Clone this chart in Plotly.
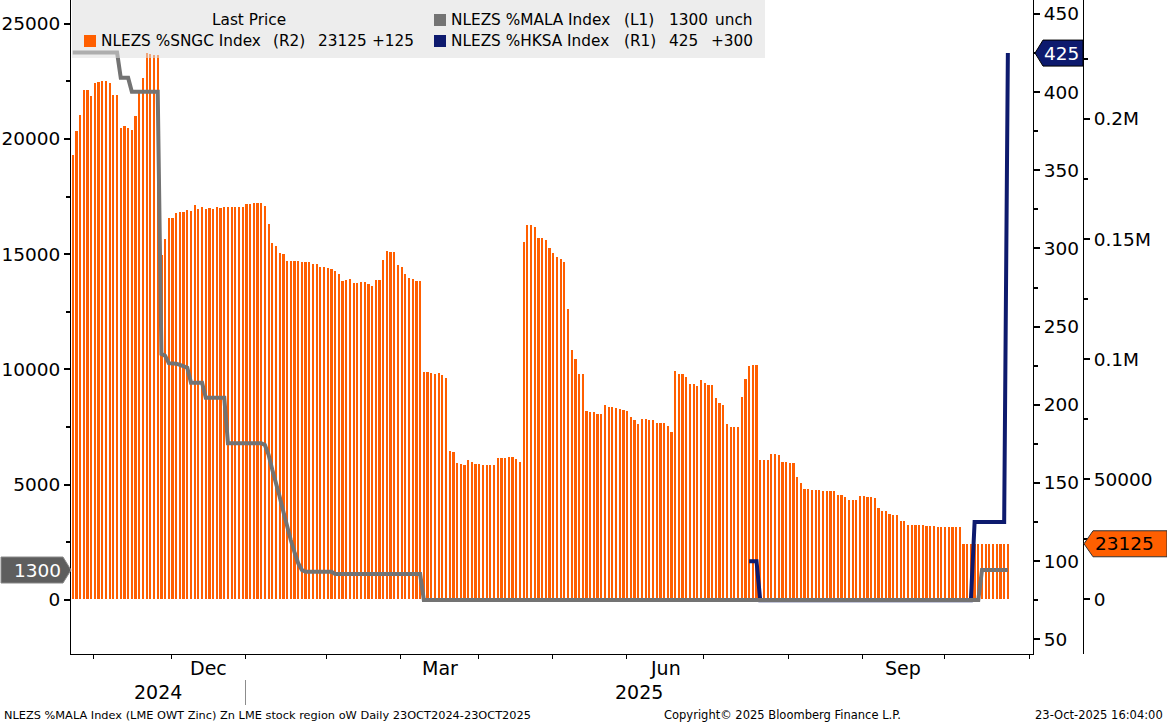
import numpy as np
import pandas as pd
import plotly.graph_objects as go

# ---------------- calendar (LME trading days) ----------------
FIRST_DAY = "2024-10-23"
LAST_DAY = "2025-10-23"
AXIS_LAST_DAY = "2025-11-07"
LME_HOLIDAYS = ["2024-12-25", "2024-12-26", "2025-01-01", "2025-04-18",
                "2025-04-21", "2025-05-05", "2025-05-26", "2025-08-25"]
HKSA_FIRST_DAY = "2025-07-16"

# ---------------- values ----------------
# NLEZS %SNGC Index (right axis R2), one value per trading day
sngc_r2 = [
    185000, 195100, 201650, 212075, 212075, 209575, 215100, 215525, 215950, 215950,
    215100, 210000, 210000, 196375, 197075, 196125, 195425, 201250, 210700, 216950,
    227350, 227075, 226775, 226775, 143375, 150025, 158775, 158775, 160725, 161150,
    161150, 162100, 161700, 164200, 162525, 163350, 162525, 162925, 162525, 163350,
    162925, 163350, 163350, 163350, 163350, 163350, 163350, 164600, 164600, 165025,
    165025, 165025, 163775, 156400, 148375, 147125, 144200, 143775, 140875, 140875,
    140875, 140875, 140450, 140450, 140450, 139625, 139625, 138375, 138375, 137950,
    137525, 136700, 135450, 132550, 132950, 133375, 131700, 131700, 132125, 132125,
    131300, 130450, 132950, 132950, 141275, 145025, 144625, 144625, 139200, 138375,
    135450, 133800, 133375, 132550, 132550, 94650, 94650, 94225, 93825, 94225,
    93400, 92150, 61750, 61325, 56750, 56350, 55925, 58000, 57175, 56350,
    56350, 55925, 55925, 55925, 55925, 58825, 58825, 58825, 59250, 59250,
    58425, 57175, 148775, 155850, 155850, 155025, 150450, 150450, 149600, 146275,
    144200, 142525, 141700, 140450, 120875, 103800, 100050, 93825, 93825, 78400,
    78000, 78000, 77150, 77150, 80900, 80075, 80075, 79650, 79250, 78825,
    78400, 75900, 74650, 73000, 75075, 75075, 74650, 74650, 73400, 73400,
    73400, 72150, 69650, 95075, 93825, 93825, 92575, 89650, 89650, 88825,
    91325, 90075, 89225, 89225, 83825, 81750, 80900, 73000, 71750, 71750,
    71750, 84225, 91725, 97150, 97575, 97575, 58000, 58000, 58000, 60500,
    60500, 60075, 57175, 57175, 56750, 56750, 50925, 48425, 45925, 45925,
    45500, 45500, 45500, 45100, 45100, 45100, 45100, 43425, 43425, 42600,
    41350, 41350, 41350, 43025, 43025, 42600, 42600, 42175, 38025, 36775,
    36775, 35525, 35100, 35100, 32600, 32600, 30950, 30950, 30950, 30950,
    30950, 30525, 30525, 30525, 30100, 30100, 30100, 30100, 30100, 30100,
    30100, 23000, 23000, 23000, 23000, 23000, 23000, 23000, 23000, 23000,
    23000, 23000, 23000, 23125,
]

# NLEZS %MALA Index (left axis L1), one value per trading day
mala_l1 = [
    23750, 23750, 23750, 23750, 23750, 23750, 23750, 23750, 23750, 23750,
    23750, 23750, 23750, 22650, 22650, 22650, 22050, 22050, 22050, 22050,
    22050, 22050, 22050, 22050, 10675, 10600, 10275, 10275, 10250, 10200,
    10150, 10075, 9425, 9425, 9425, 9425, 8775, 8775, 8775, 8775,
    8775, 8775, 6800, 6800, 6800, 6800, 6800, 6800, 6800, 6800,
    6800, 6800, 6725, 6300, 5650, 5125, 4475, 3825, 3175, 2600,
    2075, 1600, 1300, 1225, 1225, 1225, 1225, 1225, 1225, 1225,
    1225, 1125, 1125, 1125, 1125, 1125, 1125, 1125, 1125, 1125,
    1125, 1125, 1125, 1125, 1125, 1125, 1125, 1125, 1125, 1125,
    1125, 1125, 1125, 1125, 1125, 0, 0, 0, 0, 0,
    0, 0, 0, 0, 0, 0, 0, 0, 0, 0,
    0, 0, 0, 0, 0, 0, 0, 0, 0, 0,
    0, 0, 0, 0, 0, 0, 0, 0, 0, 0,
    0, 0, 0, 0, 0, 0, 0, 0, 0, 0,
    0, 0, 0, 0, 0, 0, 0, 0, 0, 0,
    0, 0, 0, 0, 0, 0, 0, 0, 0, 0,
    0, 0, 0, 0, 0, 0, 0, 0, 0, 0,
    0, 0, 0, 0, 0, 0, 0, 0, 0, 0,
    0, 0, 0, 0, 0, 0, 0, 0, 0, 0,
    0, 0, 0, 0, 0, 0, 0, 0, 0, 0,
    0, 0, 0, 0, 0, 0, 0, 0, 0, 0,
    0, 0, 0, 0, 0, 0, 0, 0, 0, 0,
    0, 0, 0, 0, 0, 0, 0, 0, 0, 0,
    0, 0, 0, 0, 0, 0, 0, 0, 0, 0,
    0, 0, 0, 0, 0, 0, 1300, 1300, 1300, 1300,
    1300, 1300, 1300, 1300,
]

# NLEZS %HKSA Index (right axis R1), from HKSA_FIRST_DAY onwards
hksa_r1 = [
    100, 100, 100, 75, 75, 75, 75, 75, 75, 75,
    75, 75, 75, 75, 75, 75, 75, 75, 75, 75,
    75, 75, 75, 75, 75, 75, 75, 75, 75, 75,
    75, 75, 75, 75, 75, 75, 75, 75, 75, 75,
    75, 75, 75, 75, 75, 75, 75, 75, 75, 75,
    75, 75, 75, 75, 75, 75, 75, 75, 75, 75,
    75, 125, 125, 125, 125, 125, 125, 125, 125, 125,
    425,
]

L1_TICKS = [0, 5000, 10000, 15000, 20000, 25000]
L1_MINOR = [2500, 7500, 12500, 17500, 22500]
R1_TICKS = [50, 100, 150, 200, 250, 300, 350, 400, 450]
R1_MINOR = [75, 125, 175, 225, 275, 325, 375, 425]
R2_TICKS = [0, 50000, 100000, 150000, 200000]
R2_TICKTEXT = ["0", "50000", "0.1M", "0.15M", "0.2M"]
R2_MINOR = [25000, 75000, 125000, 175000, 225000]
MONTH_LABELS = {"2024-12": "Dec", "2025-03": "Mar", "2025-06": "Jun", "2025-09": "Sep"}

LEGEND_ROWS = [
    # (text, x_px, y_px, xanchor)
    ("Last Price", 249, 20, "center"),
    ("NLEZS %MALA Index", 449, 20, "left"), ("(L1)", 622, 20, "left"),
    ("1300", 667, 20, "left"), ("unch", 755, 20, "right"),
    ("NLEZS %SNGC Index", 99, 41, "left"), ("(R2)", 271, 41, "left"),
    ("23125", 316, 41, "left"), ("+125", 416, 41, "right"),
    ("NLEZS %HKSA Index", 449, 41, "left"), ("(R1)", 622, 41, "left"),
    ("425", 667, 41, "left"), ("+300", 755, 41, "right"),
]
FOOTER_LEFT = "NLEZS %MALA Index (LME OWT Zinc) Zn LME stock region oW Daily 23OCT2024-23OCT2025"
FOOTER_MID = "Copyright\u00a9 2025 Bloomberg Finance L.P."
FOOTER_RIGHT = "23-Oct-2025 16:04:00"

ORANGE = "#FF5F00"
GRAY = "#737373"
NAVY = "#0D1A6E"
FONT = "DejaVu Sans"

# ---------------- geometry ----------------
W, H = 1167, 724
ML, MR, MT, MB = 71, 84, 0, 70
PW, PH = W - ML - MR, H - MT - MB
X_DOMAIN_END = (1033 - ML) / PW


def px(xp):
    return (xp - ML) / PW


def py(yp):
    return (PH - (yp - MT)) / PH


cal = pd.bdate_range(FIRST_DAY, AXIS_LAST_DAY)
cal = cal[~cal.isin(pd.to_datetime(LME_HOLIDAYS))]
days = cal[cal <= pd.Timestamp(LAST_DAY)]
assert len(days) == len(sngc_r2) == len(mala_l1)
xi = np.arange(len(days))
hk0 = int(cal.searchsorted(pd.Timestamp(HKSA_FIRST_DAY)))
hk_x = np.arange(hk0, hk0 + len(hksa_r1))

XMIN, XMAX = -0.46, 259.8
# month ticks sit at the close of the previous month's trading
month_starts = pd.date_range("2024-11-01", "2025-11-01", freq="MS")
bounds = {m.strftime("%Y-%m"): cal.searchsorted(m) - 1.25 for m in month_starts}
keys = list(bounds.keys())

fig = go.Figure()
fig.add_trace(go.Bar(x=xi, y=sngc_r2, yaxis="y", width=0.6,
                     marker=dict(color=ORANGE, line=dict(width=0)),
                     hoverinfo="skip", showlegend=False))
fig.add_trace(go.Scatter(x=hk_x, y=hksa_r1, yaxis="y2", mode="lines",
                         line=dict(color=NAVY, width=4),
                         hoverinfo="skip", showlegend=False))
fig.add_trace(go.Scatter(x=xi, y=mala_l1, yaxis="y3", mode="lines",
                         line=dict(color=GRAY, width=4),
                         hoverinfo="skip", showlegend=False))

tickfont = dict(family=FONT, size=18.5, color="black")
common_y = dict(showgrid=False, zeroline=False, showline=True, linecolor="black",
                linewidth=1, ticks="outside", ticklen=6, tickwidth=2,
                tickcolor="black", tickfont=tickfont, tickmode="array")

fig.update_layout(
    width=W, height=H,
    margin=dict(l=ML, r=MR, t=MT, b=MB, pad=0),
    paper_bgcolor="white", plot_bgcolor="white",
    showlegend=False, bargap=0,
    xaxis=dict(domain=[0, X_DOMAIN_END], range=[XMIN, XMAX], anchor="y",
               showgrid=False, zeroline=False, showline=True, linecolor="black",
               linewidth=1, ticks="outside", ticklen=4, tickcolor="black",
               tickmode="array", tickvals=list(bounds.values()),
               showticklabels=False),
    yaxis=dict(range=[-22777, 249550], side="right", anchor="free", position=1.0,
               tickvals=R2_TICKS, ticktext=R2_TICKTEXT,
               minor=dict(tickmode="array", tickvals=R2_MINOR, ticks="outside",
                          ticklen=4, tickcolor="black", showgrid=False),
               **common_y),
    yaxis2=dict(range=[40.6, 458.96], side="right", anchor="x", overlaying="y",
                tickvals=R1_TICKS, ticktext=[str(v) for v in R1_TICKS],
                minor=dict(tickmode="array", tickvals=R1_MINOR, ticks="outside",
                           ticklen=4, tickcolor="black", showgrid=False),
                **common_y),
    yaxis3=dict(range=[-2343, 26028], side="left", anchor="x", overlaying="y",
                tickvals=L1_TICKS, ticktext=[str(v) for v in L1_TICKS],
                minor=dict(tickmode="array", tickvals=L1_MINOR, ticks="outside",
                           ticklen=4, tickcolor="black", showgrid=False),
                **common_y),
)

shapes = []
annotations = []

# legend box (semi-transparent, over the plot)
shapes.append(dict(type="rect", xref="paper", yref="paper", layer="above",
                   x0=px(72), x1=px(765), y0=py(58), y1=py(0),
                   fillcolor="rgba(222,222,222,0.55)", line=dict(width=0)))
for col, (x0, y0) in [(GRAY, (434, 14)), (ORANGE, (84, 35)), (NAVY, (434, 35))]:
    shapes.append(dict(type="rect", xref="paper", yref="paper", layer="above",
                       x0=px(x0), x1=px(x0 + 12), y0=py(y0 + 12), y1=py(y0),
                       fillcolor=col, line=dict(width=0)))
for text, xp, yp, anc in LEGEND_ROWS:
    annotations.append(dict(text=text, xref="paper", yref="paper", x=px(xp), y=py(yp),
                            xanchor=anc, yanchor="middle", showarrow=False,
                            font=dict(family=FONT, size=15.3, color="black")))

# value tags on the axes
shapes.append(dict(type="path", xref="paper", yref="y3", layer="above",
                   xsizemode="pixel", ysizemode="pixel", xanchor=0, yanchor=mala_l1[-1],
                   path="M -70,-13 L -8,-13 L 0,0 L -8,13 L -70,13 Z",
                   fillcolor="#5E5E5E", line=dict(color="#8A8A8A", width=1)))
annotations.append(dict(text=str(mala_l1[-1]), xref="paper", yref="y3", x=px(63),
                        y=mala_l1[-1], xanchor="right", yanchor="middle", showarrow=False,
                        font=dict(family=FONT, size=18.5, color="white")))
shapes.append(dict(type="path", xref="paper", yref="y2", layer="above",
                   xsizemode="pixel", ysizemode="pixel", xanchor=X_DOMAIN_END,
                   yanchor=hksa_r1[-1],
                   path="M 2,0 L 10,13 L 50,13 L 50,-13 L 10,-13 Z",
                   fillcolor=NAVY, line=dict(color="#000000", width=1)))
annotations.append(dict(text=str(hksa_r1[-1]), xref="paper", yref="y2", x=px(1061),
                        y=hksa_r1[-1], xanchor="center", yanchor="middle", showarrow=False,
                        font=dict(family=FONT, size=18.5, color="white")))
shapes.append(dict(type="path", xref="paper", yref="y", layer="above",
                   xsizemode="pixel", ysizemode="pixel", xanchor=1.0,
                   yanchor=sngc_r2[-1],
                   path="M 1,0 L 10,13 L 84,13 L 84,-13 L 10,-13 Z",
                   fillcolor=ORANGE, line=dict(color="#333333", width=1)))
annotations.append(dict(text=str(sngc_r2[-1]), xref="paper", yref="y", x=px(1124),
                        y=sngc_r2[-1], xanchor="center", yanchor="middle", showarrow=False,
                        font=dict(family=FONT, size=18.5, color="black")))

# month and year labels
for ym, lab in MONTH_LABELS.items():
    k = keys.index(ym)
    cx = (bounds[keys[k]] + bounds[keys[k + 1]]) / 2
    annotations.append(dict(text=lab, xref="x", yref="paper", x=cx, y=py(668),
                            xanchor="center", yanchor="middle", showarrow=False,
                            font=dict(family=FONT, size=19, color="black")))
jan = bounds["2025-01"]
for lab, cx in [("2024", (XMIN + jan) / 2), ("2025", (jan + XMAX) / 2)]:
    annotations.append(dict(text=lab, xref="x", yref="paper", x=cx, y=py(692),
                            xanchor="center", yanchor="middle", showarrow=False,
                            font=dict(family=FONT, size=19, color="black")))
shapes.append(dict(type="line", xref="x", yref="paper", x0=jan, x1=jan,
                   y0=py(680), y1=py(705), line=dict(color="#8C8C8C", width=1)))

# footer
for text, xp, anc, fs in [(FOOTER_LEFT, 2, "left", 11.35), (FOOTER_MID, 662, "left", 11.5),
                          (FOOTER_RIGHT, 1165, "right", 11.5)]:
    annotations.append(dict(text=text, xref="paper", yref="paper", x=px(xp), y=py(715),
                            xanchor=anc, yanchor="middle", showarrow=False,
                            font=dict(family=FONT, size=fs, color="black")))

fig.update_layout(shapes=shapes, annotations=annotations)
fig.write_html("out.html", config={"displayModeBar": False})
